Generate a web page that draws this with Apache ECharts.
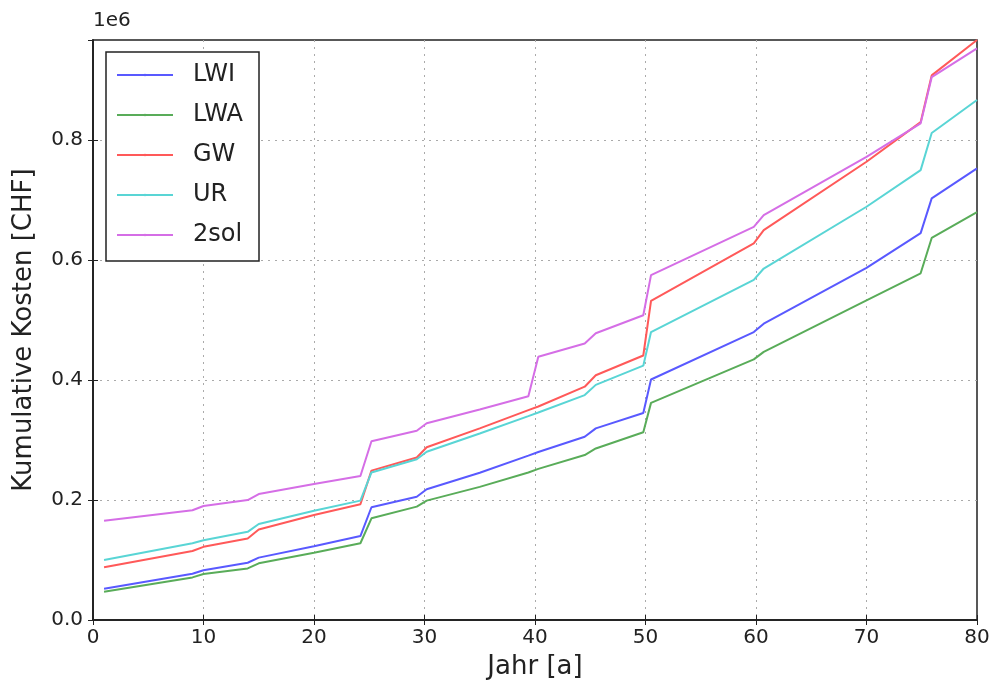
<!DOCTYPE html>
<html>
<head>
<meta charset="utf-8">
<script src="https://cdn.jsdelivr.net/npm/echarts@6/dist/echarts.min.js"></script>
<style>
  html, body { margin: 0; padding: 0; background: #fff; }
  #chart { width: 994px; height: 686px; }
</style>
</head>
<body>
<div id="chart"></div>
<script>
// Jahre an den Knickpunkten
var years = [1, 9, 10, 14, 15, 20, 24.2, 25.2, 29.3, 30.2, 35, 39.4, 40.3, 44.5, 45.5, 49.8, 50.5, 59.8, 60.7, 70, 74.9, 75.9, 80];

var LWI  = [52000, 77000, 83000, 95500, 104000, 123000, 140000, 188000, 205500, 218000, 245500, 274000, 280000, 305500, 319500, 345000, 401000, 480000, 494000, 587000, 645000, 703000, 753000];
var LWA  = [47000, 71000, 76700, 86000, 94500, 112000, 128000, 169500, 189000, 199000, 222000, 246000, 252000, 275000, 286000, 313000, 362000, 434500, 447000, 533000, 578000, 637000, 680000];
var GW   = [88000, 115000, 122000, 136000, 151000, 175000, 193000, 249000, 271000, 288000, 319500, 350000, 356000, 389000, 408000, 441000, 532000, 628000, 650000, 764000, 830000, 908000, 967000];
var UR   = [100000, 128000, 133000, 147000, 160000, 182000, 199000, 246000, 268000, 280500, 311000, 340000, 346000, 375000, 392000, 424000, 480000, 567000, 586000, 689000, 750000, 812000, 867000];
var sol2 = [165500, 183000, 190000, 200000, 210000, 226700, 240000, 298000, 315500, 328000, 351000, 373000, 439000, 461000, 478000, 508000, 575000, 655500, 675000, 772000, 828000, 905000, 953000];

var names  = ['LWI', 'LWA', 'GW', 'UR', '2sol'];
var values = [LWI, LWA, GW, UR, sol2];
var colors = ['rgb(89,89,255)', 'rgb(89,172,89)', 'rgb(255,89,89)', 'rgb(89,213,213)', 'rgb(213,110,230)'];

var font = 'DejaVu Sans';

function pairs(vals) {
  return years.map(function (y, i) { return [y, vals[i]]; });
}

var series = names.map(function (n, i) {
  return {
    name: n,
    type: 'line',
    symbol: 'none',
    data: pairs(values[i]),
    lineStyle: { width: 2, color: colors[i] },
    itemStyle: { color: colors[i] }
  };
});

var tickStyle = { show: true, inside: true, length: 5, lineStyle: { color: '#222', width: 1 } };
var frameLine = { show: true, lineStyle: { color: '#222', width: 1.5 } };
var gridLine  = { show: true, showMinLine: false, showMaxLine: false, lineStyle: { color: '#aaa', type: [2, 5], width: 1 } };

var myChart = echarts.init(document.getElementById('chart'));
myChart.setOption({
  animation: false,
  backgroundColor: '#fff',
  textStyle: { fontFamily: font },
  grid: { left: 93, right: 17, top: 40, bottom: 66, show: true, borderColor: '#222', borderWidth: 1.5 },
  graphic: [{
    type: 'text', left: 93, top: 11, z: 100,
    style: { text: '1e6', font: '20px "DejaVu Sans"', fill: '#222' }
  }],
  legend: {
    orient: 'vertical',
    left: 106, top: 52,
    padding: [9, 16, 12, 10],
    itemWidth: 56, itemHeight: 3,
    itemGap: 12,
    borderColor: '#222', borderWidth: 1.5,
    backgroundColor: '#fff',
    textStyle: { fontFamily: font, fontSize: 24, color: '#222', lineHeight: 28, padding: [0, 0, 0, 15] },
    data: names
  },
  xAxis: [{
    type: 'value', min: 0, max: 80, interval: 10,
    name: 'Jahr [a]', nameLocation: 'middle', nameGap: 34,
    nameTextStyle: { fontFamily: font, fontSize: 26, color: '#222' },
    axisLine: frameLine, axisTick: tickStyle, splitLine: gridLine,
    axisLabel: { fontFamily: font, fontSize: 20, color: '#222', margin: 8 }
  }, {
    type: 'value', min: 0, max: 80, interval: 10, position: 'top',
    axisLine: frameLine, axisTick: tickStyle, splitLine: { show: false },
    axisLabel: { show: false }
  }],
  yAxis: [{
    type: 'value', min: 0, max: 967000, interval: 200000,
    name: 'Kumulative Kosten [CHF]', nameLocation: 'middle', nameGap: 56,
    nameTextStyle: { fontFamily: font, fontSize: 26, color: '#222' },
    axisLine: frameLine, axisTick: tickStyle, splitLine: gridLine,
    axisLabel: {
      fontFamily: font, fontSize: 20, color: '#222', margin: 10, showMaxLabel: false,
      formatter: function (v) { return (v / 1e6).toFixed(1); }
    }
  }, {
    type: 'value', min: 0, max: 967000, interval: 200000, position: 'right',
    axisLine: frameLine, axisTick: tickStyle, splitLine: { show: false },
    axisLabel: { show: false }
  }],
  series: series
});
</script>
</body>
</html>
